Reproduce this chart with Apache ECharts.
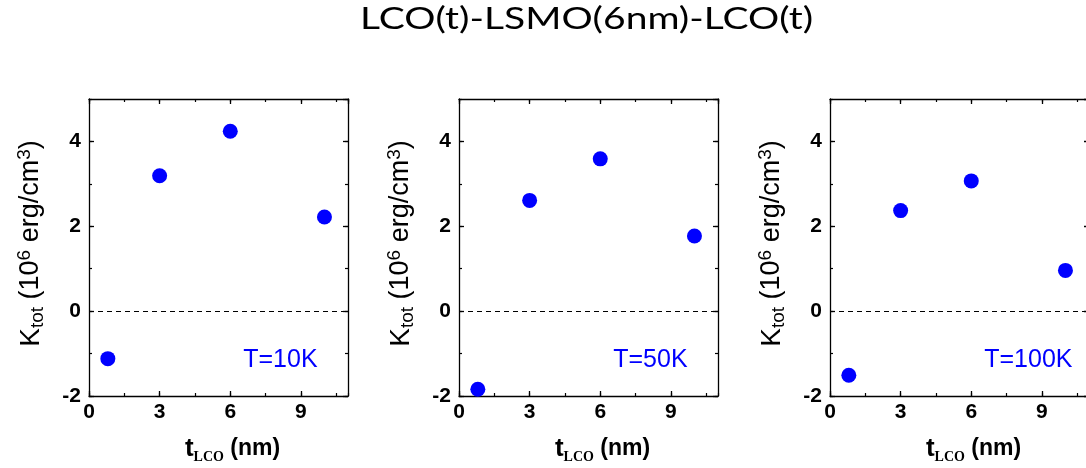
<!DOCTYPE html>
<html>
<head>
<meta charset="utf-8">
<script src="https://cdn.jsdelivr.net/npm/echarts@6/dist/echarts.min.js"></script>
<style>html,body{margin:0;padding:0;background:#fff}#c{width:1086px;height:468px}</style>
</head>
<body>
<div id="c"></div>
<script>
// ---- data ----
const titleText = 'LCO(t)-LSMO(6nm)-LCO(t)';
const tLCO = [0.8, 3, 6, 10];
const k10K = [-1.12, 3.19, 4.24, 2.22];
const k50K = [-1.84, 2.61, 3.59, 1.77];
const k100K = [-1.51, 2.37, 3.07, 0.96];
const panelLabels = ['T=10K', 'T=50K', 'T=100K'];
const xTickLabels = [0, 3, 6, 9];
const yTickLabels = [-2, 0, 2, 4];
const panelSeries = [k10K, k50K, k100K];

// ---- layout ----
const gridLefts = [89, 459, 830];
const gridTop = 99, gridW = 259, gridH = 297;
const FONT = 'Liberation Sans, Arial, sans-serif';
const lineCol = '#000';

const grids = [], xAxes = [], yAxes = [], series = [];
panelSeries.forEach((vals, i) => {
  grids.push({left: gridLefts[i], top: gridTop, width: gridW, height: gridH, containLabel: false, outerBoundsMode: 'none'});
  const xBase = {gridIndex: i, type: 'value', min: 0, max: 11, splitLine: {show: false}};
  const yBase = {gridIndex: i, type: 'value', min: -2, max: 5, splitLine: {show: false}};
  xAxes.push(Object.assign({}, xBase, {
    position: 'bottom', interval: 3,
    axisLine: {show: true, onZero: false, lineStyle: {color: lineCol, width: 1.3}},
    axisTick: {show: true, inside: true, length: 5, lineStyle: {color: lineCol, width: 1.3}},
    axisLabel: {show: true, margin: 6, color: '#000', fontFamily: FONT, fontSize: 21, fontWeight: 'bold',
      showMaxLabel: false, formatter: v => xTickLabels.includes(v) ? String(v) : ''},
    name: '{t|t}{s|LCO}{n| (nm)}', nameLocation: 'middle', nameGap: 38,
    nameTextStyle: {padding: [0, 0, 0, 28], rich: {
      t: {fontFamily: FONT, fontSize: 26, fontWeight: 'bold', color: '#000', lineHeight: 30},
      s: {fontFamily: 'Liberation Serif, serif', fontSize: 14, fontWeight: 'bold', color: '#000', verticalAlign: 'bottom', lineHeight: 30},
      n: {fontFamily: FONT, fontSize: 23, fontWeight: 'bold', color: '#000', lineHeight: 30}
    }}
  }));
  xAxes.push(Object.assign({}, xBase, {
    position: 'bottom', interval: 1.5,
    axisLine: {show: false, onZero: false},
    axisTick: {show: true, inside: true, length: 3, lineStyle: {color: lineCol, width: 1.2}},
    axisLabel: {show: false}
  }));
  xAxes.push(Object.assign({}, xBase, {
    position: 'top', interval: 3,
    axisLine: {show: true, onZero: false, lineStyle: {color: lineCol, width: 1.3}},
    axisTick: {show: true, inside: true, length: 5, lineStyle: {color: lineCol, width: 1.3}},
    axisLabel: {show: false}
  }));
  xAxes.push(Object.assign({}, xBase, {
    position: 'top', interval: 1.5,
    axisLine: {show: false, onZero: false},
    axisTick: {show: true, inside: true, length: 3, lineStyle: {color: lineCol, width: 1.2}},
    axisLabel: {show: false}
  }));
  yAxes.push(Object.assign({}, yBase, {
    position: 'left', interval: 2,
    axisLine: {show: true, onZero: false, lineStyle: {color: lineCol, width: 1.3}},
    axisTick: {show: true, inside: true, length: 5, lineStyle: {color: lineCol, width: 1.3}},
    axisLabel: {show: true, margin: 8, color: '#000', fontFamily: FONT, fontSize: 21, fontWeight: 'bold',
      showMaxLabel: false, formatter: v => yTickLabels.includes(v) ? String(v) : ''},
    name: '{k|K}{sub|tot}{n| (10}{sup|6}{n| erg/cm}{sup|3}{n|)}',
    nameLocation: 'middle', nameRotate: 90, nameGap: 42,
    nameTextStyle: {padding: [0, 0, 0, 8], rich: {
      k: {fontFamily: FONT, fontSize: 28, color: '#000', lineHeight: 32},
      n: {fontFamily: FONT, fontSize: 27, color: '#000', lineHeight: 32},
      sub: {fontFamily: FONT, fontSize: 19, color: '#000', verticalAlign: 'bottom', lineHeight: 32},
      sup: {fontFamily: FONT, fontSize: 19, color: '#000', verticalAlign: 'top', lineHeight: 32}
    }}
  }));
  yAxes.push(Object.assign({}, yBase, {
    position: 'left', interval: 1,
    axisLine: {show: false, onZero: false},
    axisTick: {show: true, inside: true, length: 3, lineStyle: {color: lineCol, width: 1.2}},
    axisLabel: {show: false}
  }));
  yAxes.push(Object.assign({}, yBase, {
    position: 'right', interval: 2,
    axisLine: {show: true, onZero: false, lineStyle: {color: lineCol, width: 1.3}},
    axisTick: {show: true, inside: true, length: 5, lineStyle: {color: lineCol, width: 1.3}},
    axisLabel: {show: false}
  }));
  yAxes.push(Object.assign({}, yBase, {
    position: 'right', interval: 1,
    axisLine: {show: false, onZero: false},
    axisTick: {show: true, inside: true, length: 3, lineStyle: {color: lineCol, width: 1.2}},
    axisLabel: {show: false}
  }));

  series.push({
    type: 'scatter', xAxisIndex: 4 * i, yAxisIndex: 4 * i,
    data: tLCO.map((x, j) => [x, vals[j]]),
    symbol: 'circle', symbolSize: 15, clip: false,
    itemStyle: {color: '#0000ff', opacity: 1},
    markLine: {silent: true, symbol: 'none', label: {show: false},
      lineStyle: {color: '#000', type: [5, 4], width: 1.1},
      data: [{yAxis: 0}]},
    z: 5
  });
});

const chart = echarts.init(document.getElementById('c'), null, {renderer: 'canvas'});
chart.setOption({
  backgroundColor: '#fff',
  animation: false,
  grid: grids, xAxis: xAxes, yAxis: yAxes, series: series
});

const labelAnchor = [6.55, -1.15];
const graphics = panelLabels.map((txt, i) => {
  const p = chart.convertToPixel({gridIndex: i}, labelAnchor);
  return {type: 'text', x: p[0], y: p[1], z: 10,
    style: {text: txt, fill: '#0000ff', font: '25px "Liberation Sans", Arial, sans-serif',
      textAlign: 'left', textVerticalAlign: 'middle'}};
});
// title (source figure's title is horizontally stretched)
graphics.push({type: 'text', x: 360, y: 4, scaleX: 1.3, z: 10,
  style: {text: titleText, fill: '#000', font: '30px Lato, sans-serif', textAlign: 'left', textVerticalAlign: 'top'}});
chart.setOption({graphic: graphics});
</script>
</body>
</html>
